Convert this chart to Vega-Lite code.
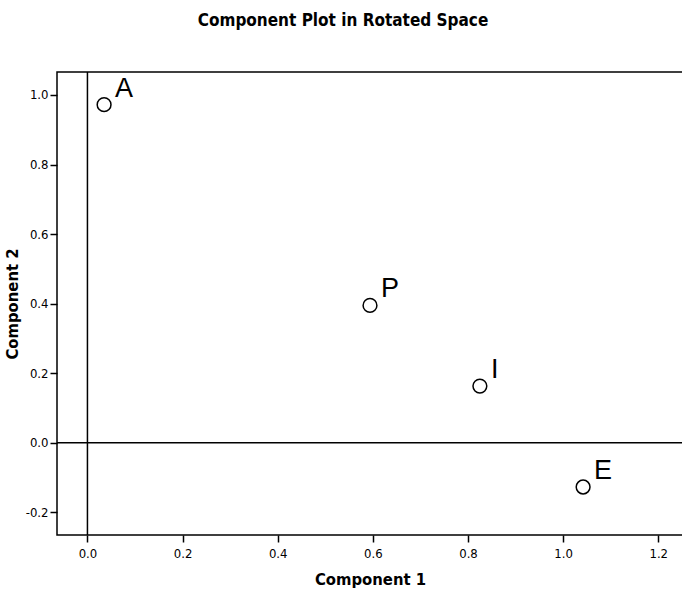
{
  "$schema": "https://vega.github.io/schema/vega-lite/v6.json",
  "width": 626,
  "height": 463,
  "autosize": "none",
  "padding": {"left": 57, "top": 72, "right": 0, "bottom": 55},
  "background": "white",
  "title": {"text": "Component Plot in Rotated Space", "font": "DejaVu Sans Condensed, Liberation Sans, sans-serif", "fontSize": 17, "fontWeight": "bold", "color": "black", "offset": 41, "anchor": "middle", "frame": "group", "dx": -27},
  "config": {
    "view": {"stroke": "black", "strokeWidth": 1.5},
    "axis": {"domain": false, "grid": false, "tickColor": "black", "tickSize": 7, "tickWidth": 1.5, "labelFont": "DejaVu Sans Condensed, Liberation Sans, sans-serif", "labelFontSize": 13, "labelColor": "black", "titleFont": "DejaVu Sans Condensed, Liberation Sans, sans-serif", "titleFontSize": 16.5, "titleFontWeight": "bold", "titleColor": "black"}
  },
  "data": {"values": [
    {"c1": 0.035, "c2": 0.972, "label": "A"},
    {"c1": 0.594, "c2": 0.395, "label": "P"},
    {"c1": 0.825, "c2": 0.163, "label": "I"},
    {"c1": 1.042, "c2": -0.127, "label": "E"}
  ]},
  "encoding": {
    "x": {"field": "c1", "type": "quantitative", "title": "Component 1", "scale": {"domain": [-0.064, 1.252], "nice": false, "zero": false}, "axis": {"values": [0, 0.2, 0.4, 0.6, 0.8, 1.0, 1.2], "format": ".1f", "labelPadding": 5, "titlePadding": 11}},
    "y": {"field": "c2", "type": "quantitative", "title": "Component 2", "scale": {"domain": [-0.265, 1.066], "nice": false, "zero": false}, "axis": {"values": [-0.2, 0, 0.2, 0.4, 0.6, 0.8, 1.0], "labelExpr": "replace(format(datum.value, '.1f'), '\u2212', '-')", "labelPadding": 2, "titlePadding": 5}}
  },
  "layer": [
    {"mark": {"type": "rule", "color": "black", "strokeWidth": 1.5}, "data": {"values": [{"v": 0}]}, "encoding": {"x": {"field": "v", "type": "quantitative"}, "y": null}},
    {"mark": {"type": "rule", "color": "black", "strokeWidth": 1.5}, "data": {"values": [{"v": 0}]}, "encoding": {"y": {"field": "v", "type": "quantitative"}, "x": null}},
    {"mark": {"type": "point", "shape": "circle", "filled": false, "color": "black", "size": 190, "strokeWidth": 1.5, "opacity": 1}},
    {"mark": {"type": "text", "font": "Liberation Sans", "fontSize": 27, "align": "left", "baseline": "alphabetic", "dx": 11, "dy": -8, "color": "black"}, "encoding": {"text": {"field": "label"}}}
  ]
}
